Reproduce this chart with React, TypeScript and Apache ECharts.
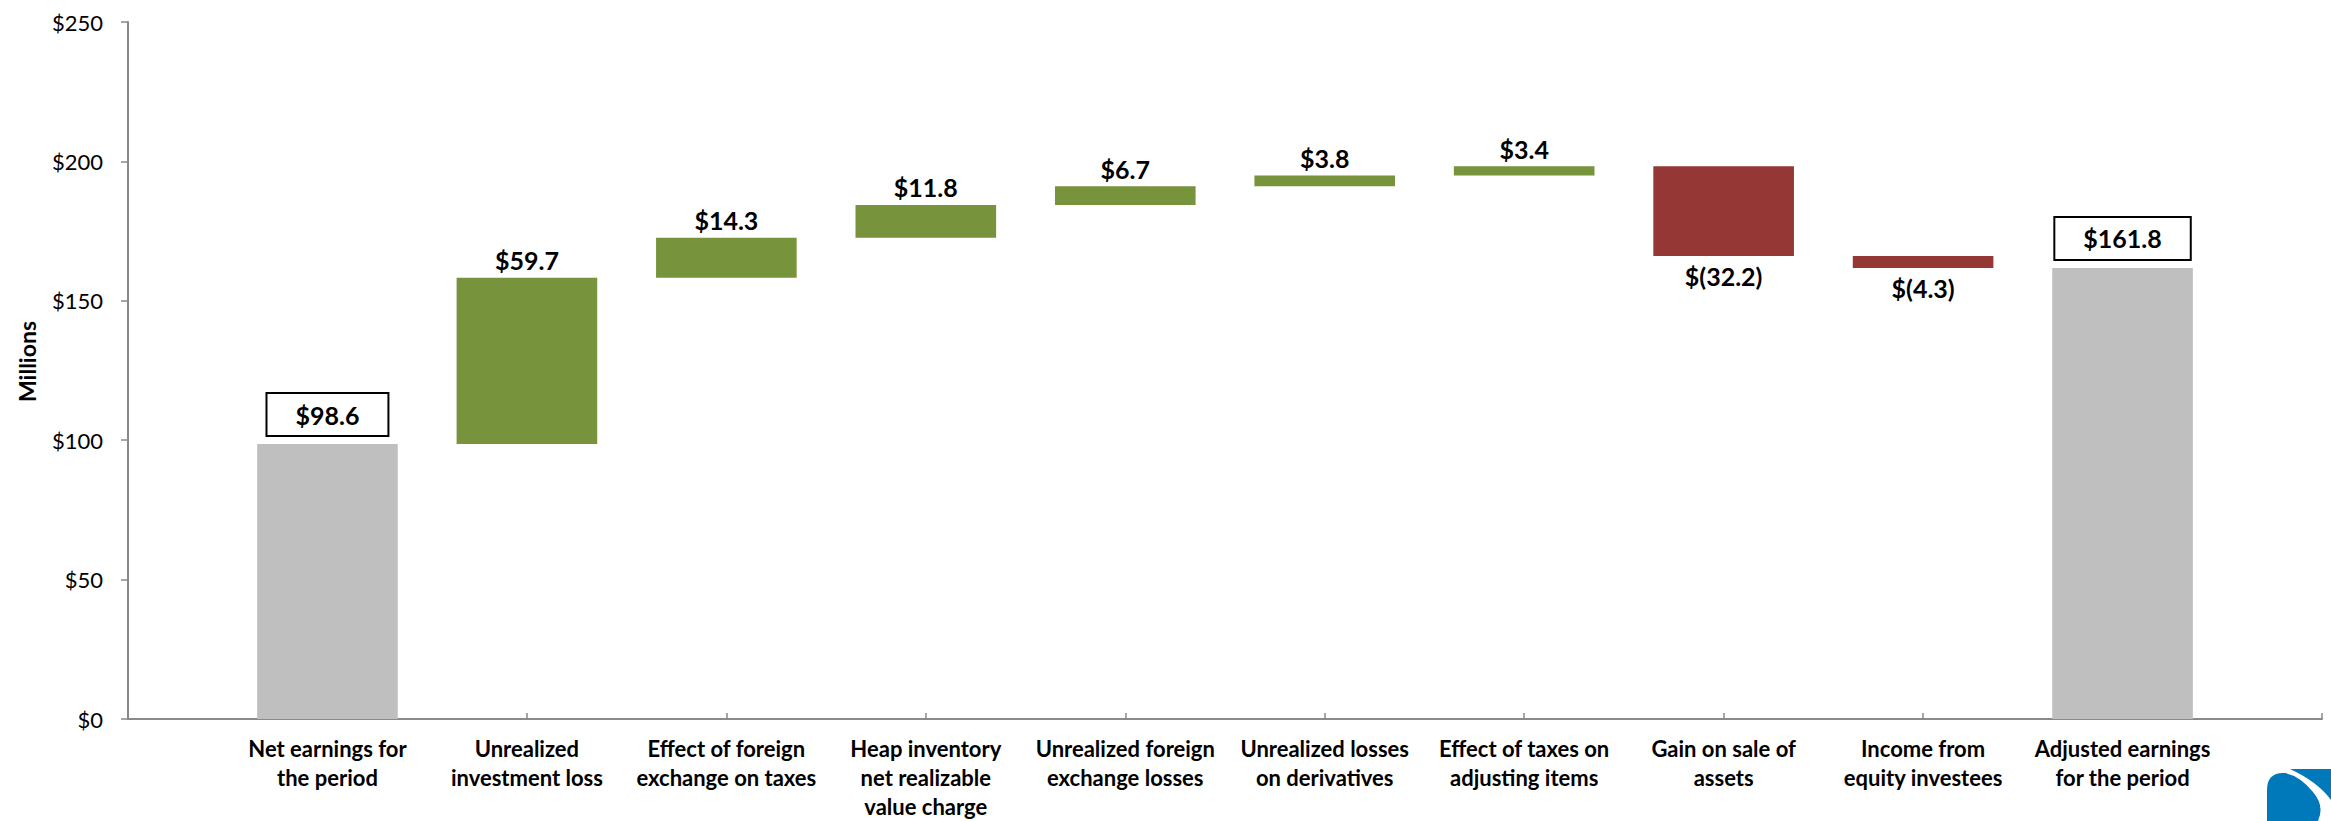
import React, { useEffect, useRef } from "react";
import * as echarts from "echarts";

const categories = [
  "Net earnings for\nthe period",
  "Unrealized\ninvestment loss",
  "Effect of foreign\nexchange on taxes",
  "Heap inventory\nnet realizable\nvalue charge",
  "Unrealized foreign\nexchange losses",
  "Unrealized losses\non derivatives",
  "Effect of taxes on\nadjusting items",
  "Gain on sale of\nassets",
  "Income from\nequity investees",
  "Adjusted earnings\nfor the period",
];
const values = [98.6, 59.7, 14.3, 11.8, 6.7, 3.8, 3.4, -32.2, -4.3, 161.8];
const kinds = ["total", "delta", "delta", "delta", "delta", "delta", "delta", "delta", "delta", "total"];
const yMin = 0;
const yMax = 250;
const yInterval = 50;

const COLORS = { total: "#BFBFBF", up: "#77933C", down: "#953735" };
const FONT = "Lato, 'Open Sans', sans-serif";

const LOGO_LEFT = "M0,52 L0,21 Q0,3 18,4 Q33,7 46,23 Q58,37 51,52 Z";
const LOGO_RIGHT = "M23,0 L64,0 L64,31 Q51,13 23,0 Z";

function fmt(v: number) {
  return v >= 0 ? `$${v.toFixed(1)}` : `$(${Math.abs(v).toFixed(1)})`;
}

export default function App() {
  const ref = useRef<HTMLDivElement>(null);
  useEffect(() => {
    if (!ref.current) return;
    try {
      echarts.graphic.registerShape("logoLeft", echarts.graphic.extendPath(LOGO_LEFT, {}));
      echarts.graphic.registerShape("logoRight", echarts.graphic.extendPath(LOGO_RIGHT, {}));
    } catch (e) {}
    const chart = echarts.init(ref.current, null, { renderer: "svg" });

    let run = 0;
    const data = values.map((v, i) => {
      let lo: number, hi: number;
      if (kinds[i] === "total") {
        lo = 0;
        hi = v;
        run = v;
      } else {
        lo = Math.min(run, run + v);
        hi = Math.max(run, run + v);
        run = run + v;
      }
      return [i + 1, lo, hi, i];
    });

    const option: any = {
      animation: false,
      grid: { left: 128, right: 9, top: 22, bottom: 101.5 },
      xAxis: {
        type: "value",
        min: 0,
        max: categories.length + 1,
        interval: 1,
        splitLine: { show: false },
        axisLine: { show: true, lineStyle: { color: "#898989", width: 2 } },
        axisTick: { show: true, inside: true, length: 6, lineStyle: { color: "#898989", width: 1.5 } },
        axisLabel: {
          show: true,
          margin: 15,
          showMinLabel: true,
          showMaxLabel: true,
          formatter: (v: number) => {
            const k = Math.round(v);
            return k >= 1 && k <= categories.length ? categories[k - 1] : "";
          },
          fontFamily: FONT,
          fontWeight: "bold",
          fontSize: 22,
          lineHeight: 29,
          color: "#000",
          align: "center",
        },
      },
      yAxis: {
        type: "value",
        min: yMin,
        max: yMax,
        interval: yInterval,
        name: "Millions",
        nameLocation: "middle",
        nameRotate: 90,
        nameGap: 90,
        nameTextStyle: { fontFamily: FONT, fontWeight: "bold", fontSize: 23, color: "#000", padding: [0, 0, 0, 18] },
        splitLine: { show: false },
        axisLine: { show: true, lineStyle: { color: "#898989", width: 2 } },
        axisTick: { show: true, inside: false, length: 7, lineStyle: { color: "#898989", width: 1.5 } },
        axisLabel: {
          margin: 25,
          formatter: (v: number) => `$${v}`,
          fontFamily: FONT,
          fontSize: 22,
          color: "#000",
        },
      },
      series: [
        {
          type: "custom",
          encode: { x: 0, y: [1, 2] },
          data,
          renderItem: (params: any, api: any) => {
            const x = api.value(0);
            const lo = api.value(1);
            const hi = api.value(2);
            const idx = api.value(3);
            const v = values[idx];
            const pTop = api.coord([x, hi]);
            const pBot = api.coord([x, lo]);
            const w = api.size([1, 0])[0] * 0.705;
            const kind = kinds[idx];
            const fill = kind === "total" ? COLORS.total : v >= 0 ? COLORS.up : COLORS.down;
            const children: any[] = [
              {
                type: "rect",
                shape: { x: pTop[0] - w / 2, y: pTop[1], width: w, height: pBot[1] - pTop[1] },
                style: { fill },
              },
            ];
            if (kind === "total") {
              children.push({
                type: "text",
                x: pTop[0],
                y: pTop[1] - 9,
                style: {
                  text: fmt(v),
                  fontFamily: FONT,
                  fontWeight: "bold",
                  fontSize: 25,
                  fill: "#000",
                  align: "center",
                  verticalAlign: "bottom",
                  backgroundColor: "#fff",
                  borderColor: "#000",
                  borderWidth: 2,
                  padding: [8, 28, 8, 28],
                },
              });
            } else if (v >= 0) {
              children.push({
                type: "text",
                x: pTop[0],
                y: pTop[1] - 5,
                style: {
                  text: fmt(v),
                  fontFamily: FONT,
                  fontWeight: "bold",
                  fontSize: 25,
                  fill: "#000",
                  align: "center",
                  verticalAlign: "bottom",
                },
              });
            } else {
              children.push({
                type: "text",
                x: pBot[0],
                y: pBot[1] + 8,
                style: {
                  text: fmt(v),
                  fontFamily: FONT,
                  fontWeight: "bold",
                  fontSize: 25,
                  fill: "#000",
                  align: "center",
                  verticalAlign: "top",
                },
              });
            }
            return { type: "group", children };
          },
        },
      ],
      graphic: [
        { type: "logoLeft", x: 2267, y: 769, style: { fill: "#0079BA" } },
        { type: "logoRight", x: 2267, y: 769, style: { fill: "#0079BA" } },
      ],
    };
    chart.setOption(option);
    return () => chart.dispose();
  }, []);
  return (
    <div
      ref={ref}
      style={{ position: "fixed", left: 0, top: 0, width: 2331, height: 821, background: "#fff" }}
    />
  );
}
